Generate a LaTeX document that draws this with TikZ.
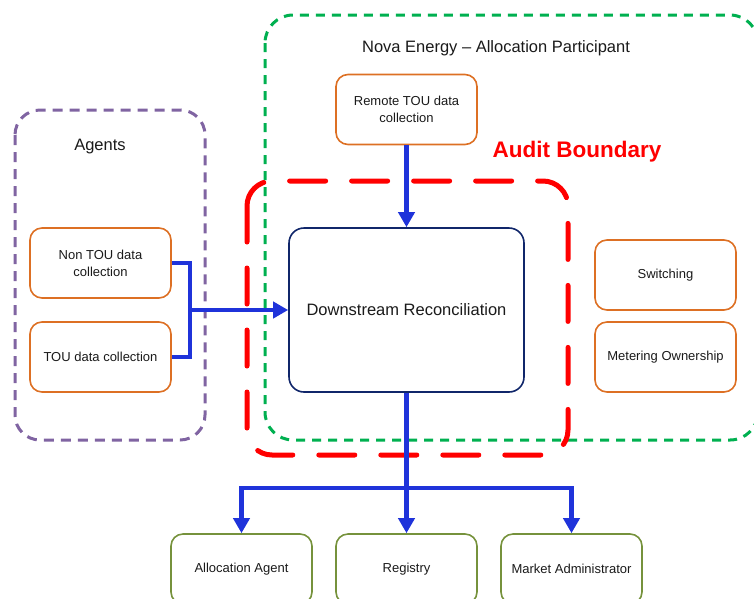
\documentclass[tikz,border=0pt]{standalone}
\usepackage{fontspec}
\setmainfont{Liberation Sans}
\usetikzlibrary{arrows.meta}
\definecolor{orng}{HTML}{DD7024}
\definecolor{navy}{HTML}{10266A}
\definecolor{olive}{HTML}{76923C}
\definecolor{purp}{HTML}{8064A2}
\definecolor{grn}{HTML}{00B050}
\definecolor{blu}{HTML}{1F33DA}
\definecolor{txt}{HTML}{1A1A1A}
\tikzset{
  obox/.style={draw=orng, line width=1.6pt, rounded corners=12pt, minimum width=141pt, minimum height=70pt, align=center, font=\fontsize{13}{16.7}\selectfont, text=txt, inner sep=0pt},
  gbox/.style={obox, draw=olive},
  drbox/.style={draw=navy, line width=1.6pt, rounded corners=15pt, minimum width=235pt, minimum height=164pt, font=\fontsize{16.5}{20}\selectfont, text=txt, inner sep=0pt},
  bigl/.style={font=\fontsize{16.5}{20}\selectfont, text=txt, inner sep=0pt},
  purpb/.style={draw=purp, line width=3pt, dash pattern=on 10pt off 7pt, rounded corners=25pt},
  grnb/.style={draw=grn, line width=3pt, dash pattern=on 9pt off 7pt, rounded corners=28pt},
  redb/.style={draw=red, line width=5pt, line cap=round, dash pattern=on 36pt off 26pt, rounded corners=25pt},
  bl/.style={draw=blu, line width=4.5pt},
  bla/.style={bl, -{Triangle[width=16pt,length=15pt]}},
}
\begin{document}
\begin{tikzpicture}[x=1pt,y=-1pt]
\useasboundingbox (0,0) rectangle (754,598);
\clip (0,0) rectangle (754,598);
% containers
\draw[purpb] (15,110) rectangle (205,440);
\draw[grnb] (265,15) rectangle (758,440);
\node[bigl] (agents) at (100,147) {Agents};
\node[bigl] (nova) at (496,48) {Nova Energy – Allocation Participant};
% boxes
\node[obox] (nontou) at (100.5,263) {Non TOU data\\collection};
\node[obox] (tou) at (100.5,357) {TOU data collection};
\node[obox] (remote) at (406.5,109.5) {Remote TOU data\\collection};
\node[drbox] (dr) at (406.5,310) {Downstream Reconciliation};
\node[obox] (switch) at (665.5,275) {Switching};
\node[obox] (meter) at (665.5,357) {Metering Ownership};
\node[gbox] (alloc) at (241.5,569) {Allocation Agent};
\node[gbox] (registry) at (406.5,569) {Registry};
\node[gbox] (market) at (571.5,569) {Market Administrator};
% audit boundary
\draw[redb] (247,181) rectangle (568,455);
\node[font=\fontsize{22.5}{26}\selectfont\bfseries, text=red, inner sep=0pt] (audit) at (577,152) {Audit Boundary};
% connectors
\coordinate (j) at (190,310);
\coordinate (b) at (406.5,488);
\draw[bl] (nontou.east) -| (j);
\draw[bl] (tou.east) -| (j);
\draw[bla] (j) -- (dr.west);
\draw[bla] (remote.south) -- (dr.north);
\draw[bl] (dr.south) -- (b);
\draw[bla] (b) -- (registry.north);
\draw[bla] (b) -| (alloc.north);
\draw[bla] (b) -| (market.north);
\end{tikzpicture}
\end{document}
